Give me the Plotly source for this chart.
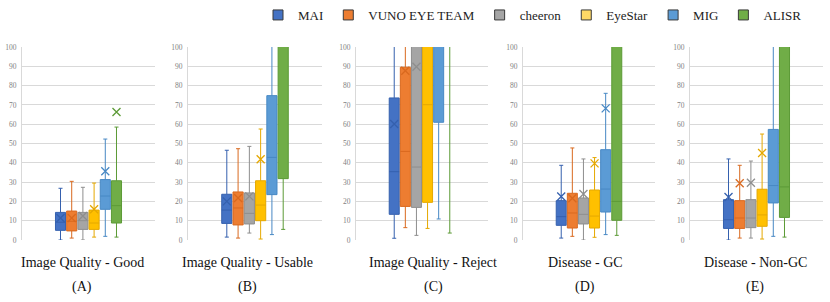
import plotly.graph_objects as go

# ---------------- data ----------------
teams = ["MAI", "VUNO EYE TEAM", "cheeron", "EyeStar", "MIG", "ALISR"]
fill_colors = ["#4472C4", "#ED7D31", "#A5A5A5", "#FFC000", "#5B9BD5", "#70AD47"]
line_colors = ["#3560AE", "#D9691F", "#8E8E8E", "#E5A800", "#4788C4", "#5C9A36"]
legend_fill = ["#4472C4", "#ED7D31", "#A5A5A5", "#FFD966", "#5B9BD5", "#70AD47"]

panel_titles = ["Image Quality - Good", "Image Quality - Usable", "Image Quality - Reject",
                "Disease - GC", "Disease - Non-GC"]
panel_letters = ["(A)", "(B)", "(C)", "(D)", "(E)"]

# values; entries above 100 are off the chart's scale (clipped)
# order per panel: MAI, VUNO EYE TEAM, cheeron, EyeStar, MIG, ALISR
A_q1 = [5.0, 4.7, 5.5, 5.5, 15.9, 8.8]
A_med = [9.2, 9.7, 10.0, 8.8, 22.8, 17.8]
A_q3 = [14.3, 15.0, 14.3, 15.5, 31.3, 30.7]
A_lo = [0.0, 1.0, 0.0, 1.5, 1.9, 1.5]
A_hi = [26.8, 30.4, 27.3, 29.5, 52.3, 58.5]
A_mean = [11.4, 11.4, 12.4, 15.9, 35.6, 66.3]

B_q1 = [8.6, 7.8, 8.3, 10.0, 23.5, 31.8]
B_med = [15.5, 16.6, 13.8, 18.1, 42.8, 110]
B_q3 = [23.7, 24.9, 24.4, 30.7, 74.8, 130]
B_lo = [1.5, 1.0, 3.6, 0.5, 2.8, 5.5]
B_hi = [46.5, 47.3, 48.5, 57.5, 140, 150]
B_mean = [20.0, 21.8, 22.6, 41.8, None, None]

C_q1 = [13.3, 17.4, 16.9, 19.5, 61.0, 110]
C_med = [35.4, 45.9, 37.8, 70.1, 110, 120]
C_q3 = [73.6, 89.5, 115, 120, 130, 140]
C_lo = [0.9, 6.4, 2.4, 6.0, 10.9, 3.6]
C_hi = [140, 140, 150, 150, 160, 160]
C_mean = [60.1, 87.7, 89.8, None, None, None]

D_q1 = [7.6, 6.2, 8.3, 6.2, 14.5, 10.2]
D_med = [12.1, 14.0, 13.3, 12.4, 26.4, 20.0]
D_q3 = [20.4, 24.2, 21.8, 25.9, 46.8, 120]
D_lo = [1.0, 1.9, 0.0, 1.4, 2.8, 2.4]
D_hi = [38.7, 47.7, 42.0, 42.7, 76.0, 150]
D_mean = [22.5, 21.6, 23.8, 39.7, 68.2, None]

E_q1 = [6.0, 6.0, 6.4, 7.1, 19.2, 11.7]
E_med = [10.5, 11.4, 11.4, 13.0, 28.2, 27.5]
E_q3 = [20.9, 20.4, 20.9, 26.3, 57.3, 120]
E_lo = [0.0, 1.0, 1.0, 0.5, 1.9, 1.5]
E_hi = [42.0, 38.7, 40.9, 54.9, 140, 150]
E_mean = [22.3, 29.4, 29.7, 45.1, None, None]

panels = [
    (A_q1, A_med, A_q3, A_lo, A_hi, A_mean),
    (B_q1, B_med, B_q3, B_lo, B_hi, B_mean),
    (C_q1, C_med, C_q3, C_lo, C_hi, C_mean),
    (D_q1, D_med, D_q3, D_lo, D_hi, D_mean),
    (E_q1, E_med, E_q3, E_lo, E_hi, E_mean),
]

y_ticks = [0, 10, 20, 30, 40, 50, 60, 70, 80, 90, 100]

# ---------------- layout geometry ----------------
W, H = 830, 302
x_domains_px = [(22, 155), (188, 322), (356, 488), (523, 655), (690, 823)]
title_x_px = [82, 247, 433, 585, 755]
y_dom = [1 - 240 / H, 1 - 47 / H]
x_range = [-3.44, 8.44]

serif = "Liberation Serif"

fig = go.Figure()

for p, (q1, med, q3, lo, hi, mean) in enumerate(panels):
    xa = "x" if p == 0 else f"x{p + 1}"
    ya = "y" if p == 0 else f"y{p + 1}"
    for i, team in enumerate(teams):
        fig.add_trace(go.Box(
            x=[i], q1=[q1[i]], median=[med[i]], q3=[q3[i]],
            lowerfence=[lo[i]], upperfence=[hi[i]],
            name=team, legendgroup=team, showlegend=False,
            fillcolor=fill_colors[i],
            line=dict(color=line_colors[i], width=1),
            width=0.9, whiskerwidth=0.4, boxpoints=False,
            xaxis=xa, yaxis=ya, hoverinfo="skip",
        ))
        if mean[i] is not None:
            fig.add_trace(go.Scatter(
                x=[i], y=[mean[i]], mode="markers",
                marker=dict(symbol="x-thin", size=8,
                            line=dict(color=line_colors[i], width=1.3)),
                showlegend=False, xaxis=xa, yaxis=ya, hoverinfo="skip",
                cliponaxis=True,
            ))

# legend entries: square swatches with dark outline
for i, team in enumerate(teams):
    fig.add_trace(go.Scatter(
        x=[None], y=[None], mode="markers", name=team, legendgroup=team,
        marker=dict(symbol="square", size=10, color=legend_fill[i],
                    line=dict(color="#3A3A3A", width=1)),
        showlegend=True, hoverinfo="skip",
    ))

layout = dict(
    width=W, height=H,
    margin=dict(l=0, r=0, t=0, b=0, autoexpand=False),
    plot_bgcolor="white", paper_bgcolor="white",
    font=dict(family=serif),
    showlegend=True,
    legend=dict(orientation="h", x=258 / W, xanchor="left", y=1.0, yanchor="top",
                font=dict(family=serif, size=13, color="#222222"),
                itemwidth=30, bgcolor="rgba(0,0,0,0)", tracegroupgap=0),
    annotations=[],
)

for p in range(5):
    sx = "" if p == 0 else str(p + 1)
    d0, d1 = x_domains_px[p]
    layout[f"xaxis{sx}"] = dict(
        domain=[d0 / W, d1 / W], range=x_range, showticklabels=False,
        showgrid=False, zeroline=False, showline=False, ticks="",
        anchor=f"y{sx}", fixedrange=True,
    )
    layout[f"yaxis{sx}"] = dict(
        domain=y_dom, range=[0, 100], tickvals=y_ticks,
        ticktext=[str(v) for v in y_ticks],
        showgrid=True, gridcolor="#D9D9D9", gridwidth=1,
        zeroline=False, showline=True, linecolor="#D9D9D9", linewidth=1,
        tickfont=dict(family=serif, size=7.5, color="#7F7F7F"),
        ticks="", ticklabelstandoff=3,
        anchor=f"x{sx}", fixedrange=True,
    )
    layout["annotations"].append(dict(
        x=title_x_px[p] / W, y=1 - 262 / H, xref="paper", yref="paper",
        text=panel_titles[p], showarrow=False, xanchor="center", yanchor="middle",
        font=dict(family=serif, size=14, color="#111111")))
    layout["annotations"].append(dict(
        x=title_x_px[p] / W, y=1 - 287 / H, xref="paper", yref="paper",
        text=panel_letters[p], showarrow=False, xanchor="center", yanchor="middle",
        font=dict(family=serif, size=14, color="#111111")))

fig.update_layout(**layout)
fig.write_html("out.html", config={"displayModeBar": False, "staticPlot": True},
               post_script="document.body.style.margin='0';")
